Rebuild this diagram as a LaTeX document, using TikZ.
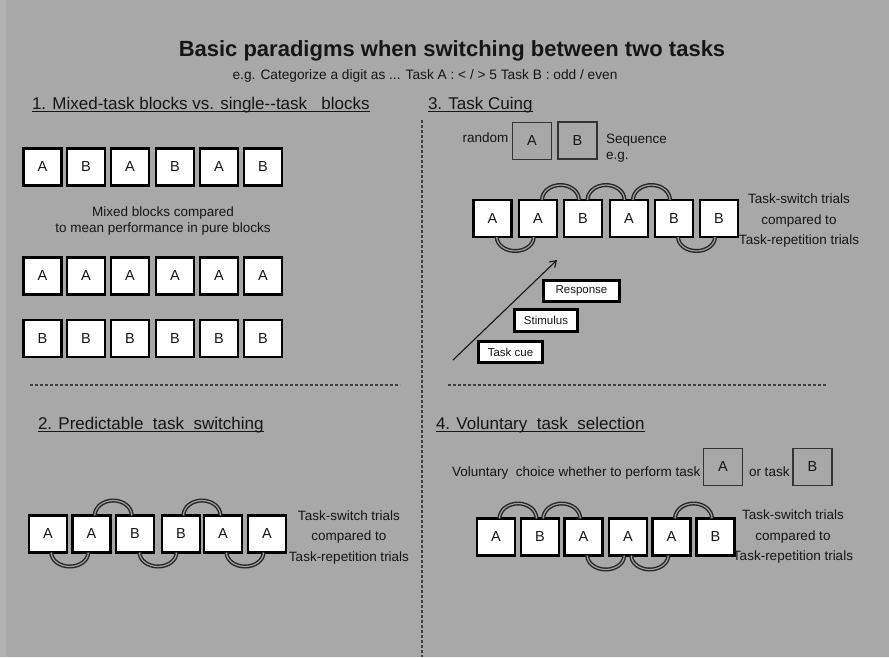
\documentclass[tikz,border=0pt]{standalone}
\usepackage{fontspec}
\setmainfont{Liberation Sans}
\usetikzlibrary{calc,arrows.meta}

\definecolor{bg}{RGB}{168,168,168}
\definecolor{bgedge}{RGB}{178,178,178}
\definecolor{ink}{RGB}{22,22,22}

\tikzset{
  every node/.style={inner sep=0pt, outer sep=0pt, text=ink},
  tbox/.style={draw=black, line width=2.6pt, fill=white, minimum width=38pt,
    minimum height=37pt, font=\fontsize{14.5}{16}\selectfont},
  cuebox/.style={draw=black!80, line width=1.3pt, minimum width=39pt,
    minimum height=37pt, font=\fontsize{14.5}{16}\selectfont},
  stagebox/.style={draw=black, line width=2.6pt, fill=white,
    minimum height=21.5pt, font=\fontsize{11.5}{13}\selectfont},
  lbl/.style={font=\fontsize{13.5}{16.5}\selectfont},
  trials/.style={font=\fontsize{13.5}{20.5}\selectfont, align=center},
  head/.style={font=\fontsize{17}{20}\selectfont, anchor=base west},
  uline/.style={draw=ink, line width=1.2pt},
  sep/.style={draw=black!75, line width=1.4pt, dash pattern=on 3pt off 2pt},
  band/.style={draw=black!85, double=gray!75, double distance=1.2pt, line width=1.4pt},
}

% arcs joining two neighbouring trial boxes
\newcommand\overarc[2]{\draw[band] ($(#1.north)!0.5!(#2.north)+(-18.5,0)$)
  arc[start angle=180, end angle=360, x radius=18.5, y radius=15];}
\newcommand\underarc[2]{\draw[band] ($(#1.south)!0.5!(#2.south)+(-18.5,0)$)
  arc[start angle=180, end angle=0, x radius=18.5, y radius=14];}

\begin{document}
\begin{tikzpicture}[x=1pt, y=-1pt]
\useasboundingbox (0,0) rectangle (889,657);
\fill[bg] (0,0) rectangle (889,657);
\fill[bgedge] (0,0) rectangle (6,657);

% title
\node[anchor=base, font=\bfseries\fontsize{22}{26}\selectfont] (title) at (452,56)
  {Basic paradigms when switching between two tasks};
\node[anchor=base, font=\fontsize{13.7}{15}\selectfont] (subtitle) at (425,79)
  {e.g. Categorize a digit as ... Task A : < / > 5 Task B : odd / even};

% separators
\coordinate (vtop) at (422,120);
\coordinate (vbot) at (422,657);
\coordinate (hl1) at (30,385);
\coordinate (hl2) at (400,385);
\coordinate (hr1) at (448,385);
\coordinate (hr2) at (827,385);
\draw[sep] (vtop) -- (vbot);
\draw[sep] (hl1) -- (hl2);
\draw[sep] (hr1) -- (hr2);

% headings
\node[head] (h1) at (32,109) {1. Mixed-task blocks vs. single-{}-task\ \ \ blocks};
\node[head] (h3) at (428,109) {3. Task Cuing};
\node[head] (h2) at (38,429) {2. Predictable\ \ task\ \ switching};
\node[head] (h4) at (436,429) {4. Voluntary\ \ task\ \ selection};
\foreach \h in {h1,h2,h3,h4}
  \draw[uline] ($(\h.base west)+(0,2.5)$) -- ($(\h.base east)+(0,2.5)$);

% ---- 1. mixed vs single blocks
\foreach \x/\l [count=\i] in {42.5/A,86/B,130/A,175/B,219/A,263/B}
  \node[tbox] (ma\i) at (\x,167) {\l};
\node[lbl, align=center] (mixtxt) at (163,221)
  {Mixed blocks compared\\to mean performance in pure blocks};
\foreach \x [count=\i] in {42.5,86,130,175,219,263}
  \node[tbox] (pa\i) at (\x,276) {A};
\foreach \x [count=\i] in {42.5,86,130,175,219,263}
  \node[tbox] (pb\i) at (\x,338.5) {B};

% ---- 3. task cuing
\node[lbl] (rnd) at (485.5,138) {random};
\node[cuebox] (cueA) at (532,141) {A};
\node[cuebox] (cueB) at (577.5,140.5) {B};
\node[lbl, anchor=base west] (seq) at (606,143) {Sequence};
\node[lbl, anchor=base west] (eg) at (606,159) {e.g.};
\foreach \x/\l [count=\i] in {492.5/A,538/A,583/B,629/A,674/B,719/B}
  \node[tbox] (c\i) at (\x,218.5) {\l};
\overarc{c2}{c3}
\overarc{c3}{c4}
\overarc{c4}{c5}
\underarc{c1}{c2}
\underarc{c5}{c6}
\node[trials] (ctx) at (799,221)
  {Task-switch trials\\compared to\\Task-repetition trials};

\node[stagebox, minimum width=64.5pt] (tcue) at (510.5,352) {Task cue};
\node[stagebox, minimum width=63.5pt] (stim) at (546,320.5) {Stimulus};
\node[stagebox, minimum width=76.5pt] (resp) at (581.5,291) {Response};
\coordinate (arrS) at (453,360);
\coordinate (arrE) at (557,260);
\draw[line width=1.1pt, draw=ink, -{Straight Barb[length=6pt,width=8pt]}] (arrS) -- (arrE);

% ---- 2. predictable switching
\foreach \x/\l [count=\i] in {48/A,91.5/A,135/B,181/B,223/A,267/A}
  \node[tbox] (p\i) at (\x,534) {\l};
\overarc{p2}{p3}
\overarc{p4}{p5}
\underarc{p1}{p2}
\underarc{p3}{p4}
\underarc{p5}{p6}
\node[trials] (ptx) at (349,537)
  {Task-switch trials\\compared to\\Task-repetition trials};

% ---- 4. voluntary selection
\node[lbl, anchor=base west] (vol) at (452,476) {Voluntary\ \ choice whether to perform task};
\node[cuebox] (volA) at (723,467) {A};
\node[lbl, anchor=base west] (ortask) at (749,476) {or task};
\node[cuebox] (volB) at (812.5,467) {B};
\foreach \x/\l [count=\i] in {496/A,540/B,583.5/A,628/A,671.5/A,715.5/B}
  \node[tbox] (v\i) at (\x,537) {\l};
\overarc{v1}{v2}
\overarc{v2}{v3}
\overarc{v5}{v6}
\underarc{v3}{v4}
\underarc{v4}{v5}
\node[trials] (vtx) at (793,536.5)
  {Task-switch trials\\compared to\\Task-repetition trials};
\end{tikzpicture}
\end{document}
